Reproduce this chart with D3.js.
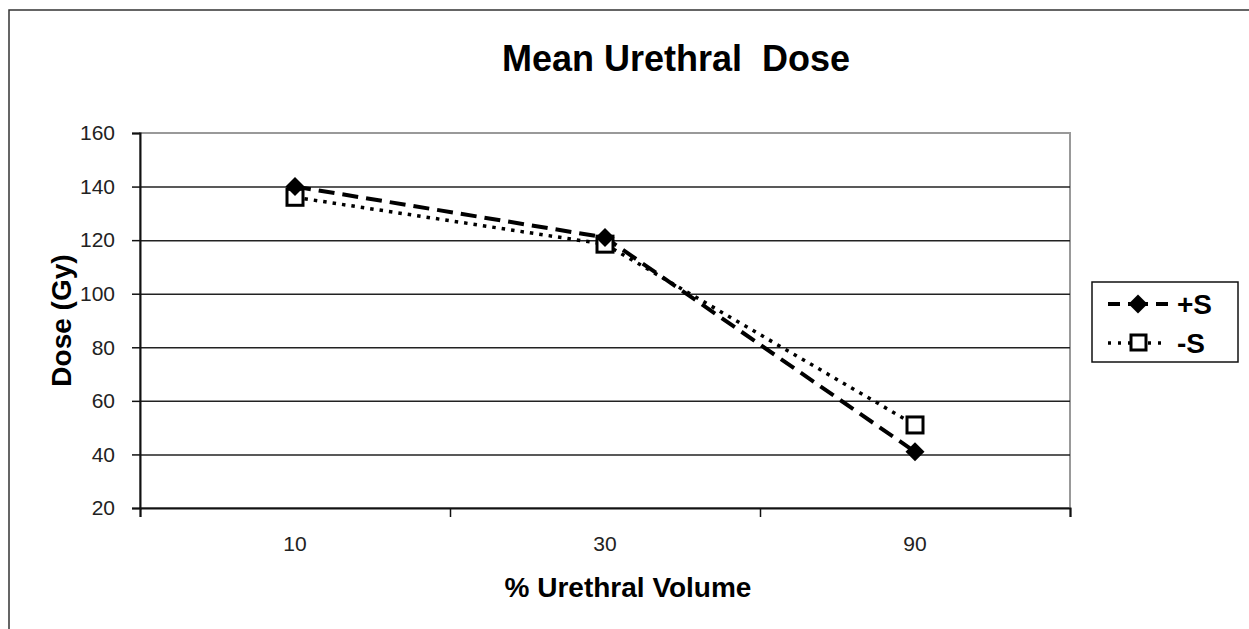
<!DOCTYPE html>
<html>
<head>
<meta charset="utf-8">
<script src="https://cdn.jsdelivr.net/npm/d3@7"></script>
<style>
  body { margin: 0; background: #fff; }
  text { font-family: "Liberation Sans", Arial, sans-serif; }
</style>
</head>
<body>
<svg id="chart"></svg>
<script>
// Data
let categories = ['10', '30', '90']
let plusS = [140, 121, 41]
let minusS = [136, 118.5, 51]
let yTicks = [20, 40, 60, 80, 100, 120, 140, 160]

// Dimensions
let width = 1249
let height = 629
let plot = { left: 140, right: 1070, top: 133, bottom: 508 }

let svg = d3.select('#chart')
    .attr('width', width)
    .attr('height', height)

// Outer frame
svg.append('rect')
    .attr('x', 9).attr('y', 10)
    .attr('width', width + 20).attr('height', height + 20)
    .attr('fill', 'none')
    .attr('stroke', '#333')
    .attr('stroke-width', 1.5)

// Scales
let scale = {
    x: d3.scaleBand().domain(categories).range([plot.left, plot.right]),
    y: d3.scaleLinear().domain([20, 160]).range([plot.bottom, plot.top])
}

// Plot border
svg.append('rect')
    .attr('x', plot.left).attr('y', plot.top)
    .attr('width', plot.right - plot.left).attr('height', plot.bottom - plot.top)
    .attr('fill', 'none')
    .attr('stroke', '#999')
    .attr('stroke-width', 2)

// Gridlines
let grid = d3.axisLeft(scale.y)
    .tickValues(yTicks.slice(1, -1))
    .tickFormat('')
    .tickSize(-(plot.right - plot.left))
svg.append('g')
    .attr('transform', `translate(${plot.left},0)`)
    .call(grid)
    .call(g => g.select('.domain').remove())
    .call(g => g.selectAll('line').attr('stroke', '#222').attr('stroke-width', 1.5))

// Y axis
let yAxis = d3.axisLeft(scale.y).tickValues(yTicks).tickSize(8).tickPadding(17)
svg.append('g')
    .attr('transform', `translate(${plot.left},0)`)
    .call(yAxis)
    .call(g => g.select('.domain').attr('stroke', '#111').attr('stroke-width', 2))
    .call(g => g.selectAll('line').attr('stroke', '#111').attr('stroke-width', 1.5))
    .call(g => g.selectAll('text')
        .attr('font-size', 21)
        .attr('fill', '#222')
        .attr('font-family', '"Liberation Sans", Arial, sans-serif'))

// X axis (ticks at band edges)
let xEdges = categories.map(c => scale.x(c)).concat([plot.right])
let xTickAxis = d3.axisBottom(d3.scaleLinear().domain([plot.left, plot.right]).range([plot.left, plot.right]))
    .tickValues(xEdges).tickSize(9).tickFormat('')
svg.append('g')
    .attr('transform', `translate(0,${plot.bottom})`)
    .call(xTickAxis)
    .call(g => g.select('.domain').attr('stroke', '#111').attr('stroke-width', 2))
    .call(g => g.selectAll('line').attr('stroke', '#111').attr('stroke-width', 1.5))

let xLabelAxis = d3.axisBottom(scale.x).tickSize(0).tickPadding(28)
svg.append('g')
    .attr('transform', `translate(0,${plot.bottom})`)
    .call(xLabelAxis)
    .call(g => g.select('.domain').remove())
    .call(g => g.selectAll('text')
        .attr('font-size', 21)
        .attr('fill', '#222')
        .attr('font-family', '"Liberation Sans", Arial, sans-serif'))

// Lines
let cx = d => scale.x(d) + scale.x.bandwidth() / 2
let line = d3.line()
    .x((d, i) => cx(categories[i]))
    .y(d => scale.y(d))

svg.append('path')
    .datum(minusS)
    .attr('d', line)
    .attr('fill', 'none')
    .attr('stroke', '#000')
    .attr('stroke-width', 3.5)
    .attr('stroke-dasharray', '3.5 6')

svg.append('path')
    .datum(plusS)
    .attr('d', line)
    .attr('fill', 'none')
    .attr('stroke', '#000')
    .attr('stroke-width', 4)
    .attr('stroke-dasharray', '16 8')

// Markers
let diamond = d3.symbol().type(d3.symbolSquare).size(180)
svg.selectAll('.sq')
    .data(minusS)
    .enter()
    .append('rect')
    .attr('class', 'sq')
    .attr('x', (d, i) => cx(categories[i]) - 8)
    .attr('y', d => scale.y(d) - 8)
    .attr('width', 16).attr('height', 16)
    .attr('fill', '#fff')
    .attr('stroke', '#000')
    .attr('stroke-width', 3)

svg.selectAll('.dm')
    .data(plusS)
    .enter()
    .append('path')
    .attr('class', 'dm')
    .attr('d', diamond)
    .attr('transform', (d, i) => `translate(${cx(categories[i])},${scale.y(d)}) rotate(45)`)
    .attr('fill', '#000')

// Title
svg.append('text')
    .attr('x', 676).attr('y', 71)
    .attr('text-anchor', 'middle')
    .attr('font-size', 36)
    .attr('font-weight', 'bold')
    .style('white-space', 'pre')
    .text('Mean Urethral  Dose')

// Axis labels
svg.append('text')
    .attr('x', 628).attr('y', 597)
    .attr('text-anchor', 'middle')
    .attr('font-size', 28)
    .attr('font-weight', 'bold')
    .text('% Urethral Volume')

svg.append('text')
    .attr('transform', `translate(71,${(plot.top + plot.bottom) / 2}) rotate(-90)`)
    .attr('text-anchor', 'middle')
    .attr('font-size', 28)
    .attr('font-weight', 'bold')
    .text('Dose (Gy)')

// Legend
let legend = svg.append('g')
legend.append('rect')
    .attr('x', 1092).attr('y', 282)
    .attr('width', 146).attr('height', 80)
    .attr('fill', '#fff')
    .attr('stroke', '#111')
    .attr('stroke-width', 1.5)

let legendItems = [
    { name: '+S', y: 304, width: 4 },
    { name: '-S', y: 343, width: 3.5 }
]
legendItems.forEach((item, i) => {
    legend.append('line')
        .attr('x1', 1108).attr('x2', 1168)
        .attr('y1', item.y).attr('y2', item.y)
        .attr('stroke', '#000')
        .attr('stroke-width', item.width)
        .attr('stroke-dasharray', i === 0 ? '12 8 20 8 12' : '3 7')
    if (i === 0) {
        legend.append('path')
            .attr('d', diamond)
            .attr('transform', `translate(1138,${item.y}) rotate(45)`)
            .attr('fill', '#000')
    } else {
        legend.append('rect')
            .attr('x', 1131).attr('y', item.y - 8)
            .attr('width', 15).attr('height', 15)
            .attr('fill', '#fff')
            .attr('stroke', '#000')
            .attr('stroke-width', 3)
    }
    legend.append('text')
        .attr('x', 1177).attr('y', item.y + 10)
        .attr('font-size', 28)
        .attr('font-weight', 'bold')
        .text(item.name)
})
</script>
</body>
</html>
